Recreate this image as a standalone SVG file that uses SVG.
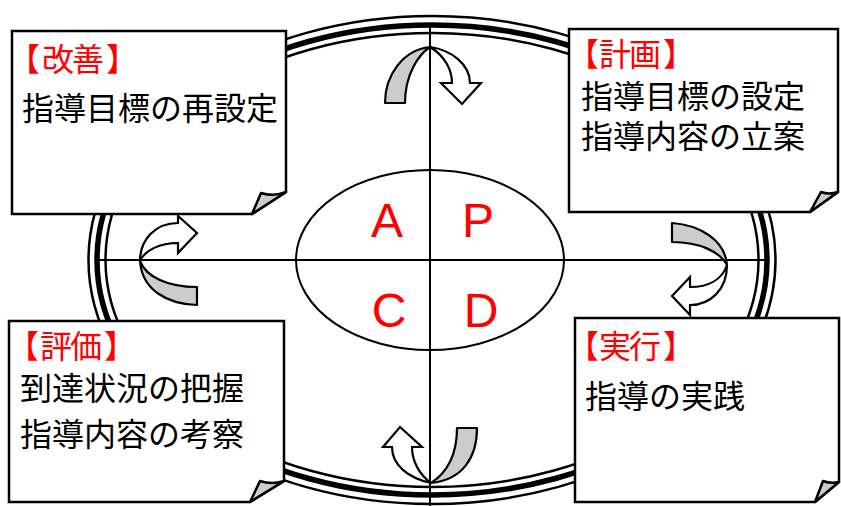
<svg xmlns="http://www.w3.org/2000/svg" width="841" height="506" viewBox="0 0 841 506">
<style>
.ring{fill:none;stroke:#000}
.thin{stroke-width:2.5}
.thick{stroke-width:5.5}
.axis{stroke:#000;stroke-width:2;fill:none}
.box{fill:#fff;stroke:#000;stroke-width:2.5;stroke-linejoin:miter}
.flap{fill:#ccc;stroke:#000;stroke-width:2.5;stroke-linejoin:round}
.back{fill:#ccc;stroke:#000;stroke-width:2.2;stroke-linejoin:round}
.front{fill:#fff;stroke:#000;stroke-width:2.2;stroke-linejoin:miter}
.ttl{font-family:"Noto Sans CJK JP","Noto Sans CJK SC",sans-serif;font-size:32px;fill:#ff0000}
.txt{font-family:"Noto Sans CJK JP","Noto Sans CJK SC",sans-serif;font-size:32px;fill:#000}
.pdca{font-family:"Liberation Sans",Arial,sans-serif;font-size:48px;fill:#ff0000;text-anchor:middle}
</style>
<rect width="841" height="506" fill="#fff"/>
<g id="ring">
<ellipse class="ring thin" cx="432" cy="260" rx="343.5" ry="244"/>
<ellipse class="ring thick" cx="432" cy="260" rx="335" ry="235"/>
<ellipse class="ring thin" cx="432" cy="260" rx="326.5" ry="227"/>
</g>
<g id="axes">
<line class="axis" x1="97" y1="260" x2="767" y2="260"/>
<line class="axis" x1="430" y1="26" x2="430" y2="506"/>
</g>
<g id="center">
<ellipse cx="430" cy="260" rx="134" ry="90" fill="none" stroke="#000" stroke-width="2"/>
<text class="pdca" x="387" y="237">A</text>
<text class="pdca" x="478" y="237">P</text>
<text class="pdca" x="389" y="327">C</text>
<text class="pdca" x="481" y="327">D</text>
</g>
<g id="connectors">
<g id="arrow-top">
<path class="back" d="M385,103 C385,75 403,50 430,47 C418,55 405,75 405,103 Z"/>
<path class="front" d="M430,47 C452,50 470,65 470,83 L481,83 L462,104 L441,83 L452,83 C452,70 445,56 430,47 Z"/>
</g>
<g id="arrow-right">
<path class="back" d="M672,223 C700,225 725,240 727,265 C720,252 700,242 672,242 Z"/>
<path class="front" d="M727,265 C727,290 710,305 690,305 L690,315 L672,296 L690,277 L690,287 C708,287 722,280 727,265 Z"/>
</g>
<g id="arrow-bottom">
<path class="back" d="M457,428 L477,428 C477,458 462,480 431,483 C448,472 457,455 457,428 Z"/>
<path class="front" d="M431,483 C408,478 392,465 392,447 L383,447 L400,427 L422,447 L412,447 C412,462 420,475 431,483 Z"/>
</g>
<g id="arrow-left">
<path class="back" d="M197,287 L197,305 C167,304 142,290 140,261 C146,277 168,287 197,287 Z"/>
<path class="front" d="M140,261 C140,240 155,223 178,223 L178,216 L197,233 L178,253 L178,243 C160,243 145,250 140,261 Z"/>
</g>
</g>
<g id="box-kaizen">
<path class="box" d="M12,31 H286 V192 L252,214 H12 Z"/>
<path class="flap" d="M252,214 L261,193 Q274,197 286,192 Z"/>
<text class="ttl" x="8 42 72 106" y="71">【改善】</text>
<text class="txt" x="22" y="120">指導目標の再設定</text>
</g>
<g id="box-keikaku">
<path class="box" d="M569,29 H838 V192 L810,212 H569 Z"/>
<path class="flap" d="M810,212 L821,192 Q829,195 838,192 Z"/>
<text class="ttl" x="567 599 629 663" y="66">【計画】</text>
<text class="txt" x="581" y="108">指導目標の設定</text>
<text class="txt" x="581" y="148">指導内容の立案</text>
</g>
<g id="box-hyoka">
<path class="box" d="M9,321 H284 V481 L250,502 H9 Z"/>
<path class="flap" d="M250,502 L260,481 Q272,485 284,481 Z"/>
<text class="ttl" x="7 40 70 104" y="358">【評価】</text>
<text class="txt" x="20" y="400">到達状況の把握</text>
<text class="txt" x="20" y="446">指導内容の考察</text>
</g>
<g id="box-jikko">
<path class="box" d="M575,318 H839 V482 L815,502 H575 Z"/>
<path class="flap" d="M815,502 L823,481 Q831,484 839,482 Z"/>
<text class="ttl" x="567 599 629 663" y="358">【実行】</text>
<text class="txt" x="585" y="408">指導の実践</text>
</g>
</svg>
